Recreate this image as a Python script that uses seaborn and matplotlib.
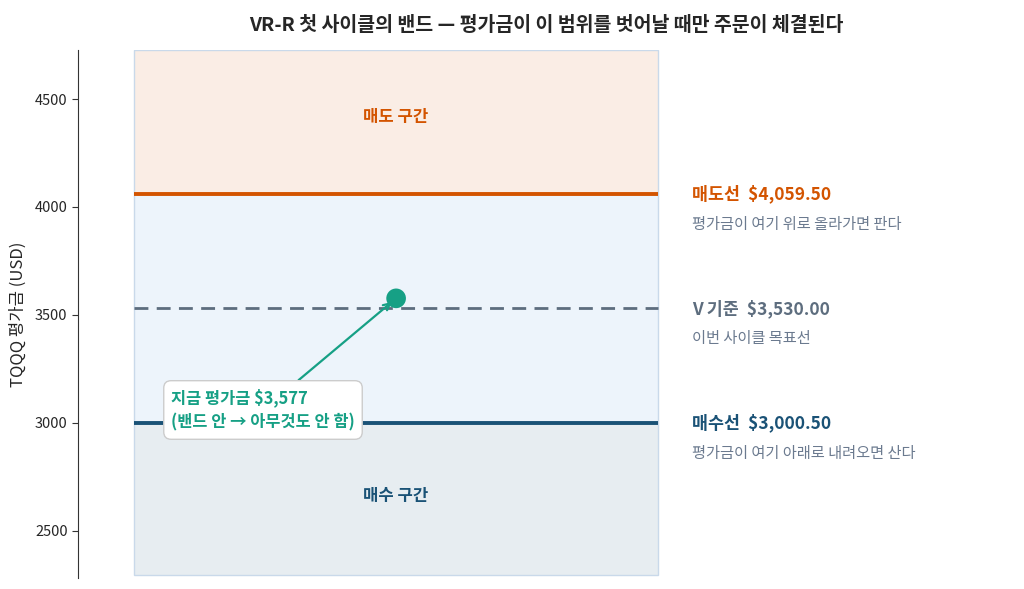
import matplotlib
matplotlib.use("Agg")
import matplotlib.pyplot as plt
import seaborn as sns

# 밴드 값
level_names = ["매도선", "V 기준", "매수선"]
level_values = [4059.50, 3530.00, 3000.50]
level_notes = ["평가금이 여기 위로 올라가면 판다", "이번 사이클 목표선", "평가금이 여기 아래로 내려오면 산다"]
level_colors = ["#d35400", "#5d6d7e", "#1a5276"]
current_value = 3577
y_ticks = [2500, 3000, 3500, 4000, 4500]
y_limits = (2282, 4727)

sns.set_style("white")
plt.rcParams['font.family'] = ['Noto Sans CJK KR', 'DejaVu Sans']
plt.rcParams['axes.unicode_minus'] = False

fig = plt.figure(figsize=(10.24, 5.89), dpi=100)
ax = fig.add_axes([78 / 1024, 11 / 589, 936 / 1024, 528 / 589])

sell, base, buy = level_values
x0, x1 = 0.0, 1.0
band_bottom = y_limits[0] + 12

# 구간 배경
ax.fill_between([x0, x1], sell, y_limits[1], color="#d35400", alpha=0.1, lw=0)
ax.fill_between([x0, x1], buy, sell, color="#3b8ad9", alpha=0.09, lw=0)
ax.fill_between([x0, x1], band_bottom, buy, color="#1a5276", alpha=0.1, lw=0)
ax.add_patch(plt.Rectangle((x0, band_bottom), x1 - x0, y_limits[1] - band_bottom,
                           fill=False, ec="#c9d9ea", lw=1))

# 기준선
ax.hlines(sell, x0, x1, color=level_colors[0], lw=2.8)
ax.hlines(base, x0, x1, color=level_colors[1], lw=2, linestyles=(0, (5, 3)))
ax.hlines(buy, x0, x1, color=level_colors[2], lw=2.8)

# 현재 평가금
sns.scatterplot(x=[0.5], y=[current_value], s=200, color="#16a085",
                edgecolor="none", zorder=5, ax=ax)
ax.annotate(f"지금 평가금 ${current_value:,}\n(밴드 안 → 아무것도 안 함)",
            xy=(0.5, current_value), xytext=(0.246, 3060),
            ha="center", va="center", multialignment="left",
            fontsize=11.8, fontweight="bold",
            color="#16a085", linespacing=1.5,
            bbox=dict(boxstyle="round,pad=0.45", fc="white", ec="#cccccc", lw=1),
            arrowprops=dict(arrowstyle="->", color="#16a085", lw=1.6,
                            shrinkA=0, shrinkB=4),
            zorder=6)

# 구간 라벨
ax.text(0.5, 4415, "매도 구간", ha="center", va="center", fontsize=12,
        fontweight="bold", color="#d35400")
ax.text(0.5, 2660, "매수 구간", ha="center", va="center", fontsize=12,
        fontweight="bold", color="#1a5276")

# 오른쪽 설명
for name, val, note, c in zip(level_names, level_values, level_notes, level_colors):
    ax.text(1.065, val, f"{name}  ${val:,.2f}", ha="left", va="center",
            fontsize=12.5, fontweight="bold", color=c)
    ax.text(1.065, val - 140, note, ha="left", va="center",
            fontsize=11, color="#6b7a8f")

ax.set_xlim(-0.107, 1.679)
ax.set_ylim(*y_limits)
ax.set_yticks(y_ticks)
ax.set_xticks([])
ax.tick_params(axis="y", labelsize=10.5, length=4, color="#333333", left=True)
ax.set_ylabel("TQQQ 평가금 (USD)", fontsize=12, labelpad=6)
sns.despine(ax=ax, bottom=True)
ax.spines["left"].set_color("#333333")
ax.set_title("VR-R 첫 사이클의 밴드 — 평가금이 이 범위를 벗어날 때만 주문이 체결된다",
             fontsize=14, fontweight="bold", pad=14)

fig.savefig("out.png", dpi=100)
